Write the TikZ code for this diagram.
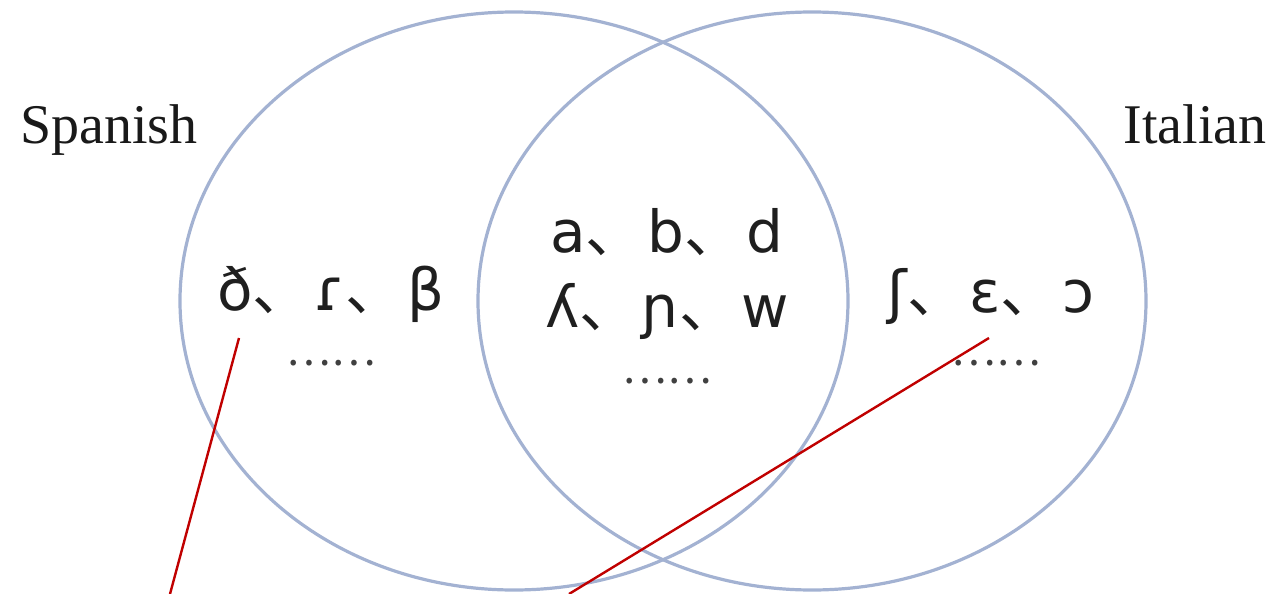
\documentclass[tikz,border=0pt]{standalone}
\usepackage{fontspec}
\setmainfont{Liberation Serif}
\newfontfamily\ipafont{DejaVu Sans}
\newfontfamily\cjk{Noto Sans CJK SC}
\usetikzlibrary{shapes.geometric, positioning, calc}
\definecolor{vennblue}{HTML}{A3B2D2}
\definecolor{markred}{HTML}{C00000}
\newcommand{\dun}{{\cjk 、}\hspace{2pt}}
\newcommand{\etcdots}{{\cjk ……}}

\begin{document}
\begin{tikzpicture}[x=0.5pt, y=-0.5pt,
        set/.style={draw=vennblue, line width=1.6pt, ellipse, minimum width=334pt, minimum height=289pt, inner sep=0pt},
        lang/.style={font=\fontsize{28}{34}\selectfont, inner sep=0pt, anchor=base west, text=black!90},
        sounds/.style={font=\ipafont\fontsize{29}{35}\selectfont, inner sep=0pt, anchor=base, text=black!88},
        more/.style={font=\fontsize{21}{24}\selectfont, inner sep=0pt, text=black!75},
        pointer/.style={markred, line width=1.2pt}
    ]
        \useasboundingbox (0,0) rectangle (1276,594);
        \node (spanish) [set] at (514,301) {};
        \node (italian) [set] at (812,301) {};

        \node (spaname) [lang] at (20,143) {Spanish};
        \node (itaname) [lang] at (1123,143) {Italian};

        \node (spaonly) [sounds] at (331,310) {ð\dun ɾ\dun β};
        \node (sharedA) [sounds] at (667,252) {a\dun b\dun d};
        \node (sharedB) [sounds] at (667,327) {ʎ\dun ɲ\dun w};
        \node (itaonly) [sounds] at (991,312) {ʃ\dun ε\dun ɔ};

        \node (spamore) [more] at (331,363) {\etcdots};
        \node (sharedmore) [more] at (667,381) {\etcdots};
        \node (itamore) [more] at (996,363) {\etcdots};

        % free-ended marks
        \coordinate (tipA) at (239,338);
        \coordinate (endA) at (170,594);
        \coordinate (tipB) at (989,338);
        \coordinate (endB) at (569,594);
        \draw [pointer] (tipA) -- (endA);
        \draw [pointer] (tipB) -- (endB);
    \end{tikzpicture}
\end{document}
